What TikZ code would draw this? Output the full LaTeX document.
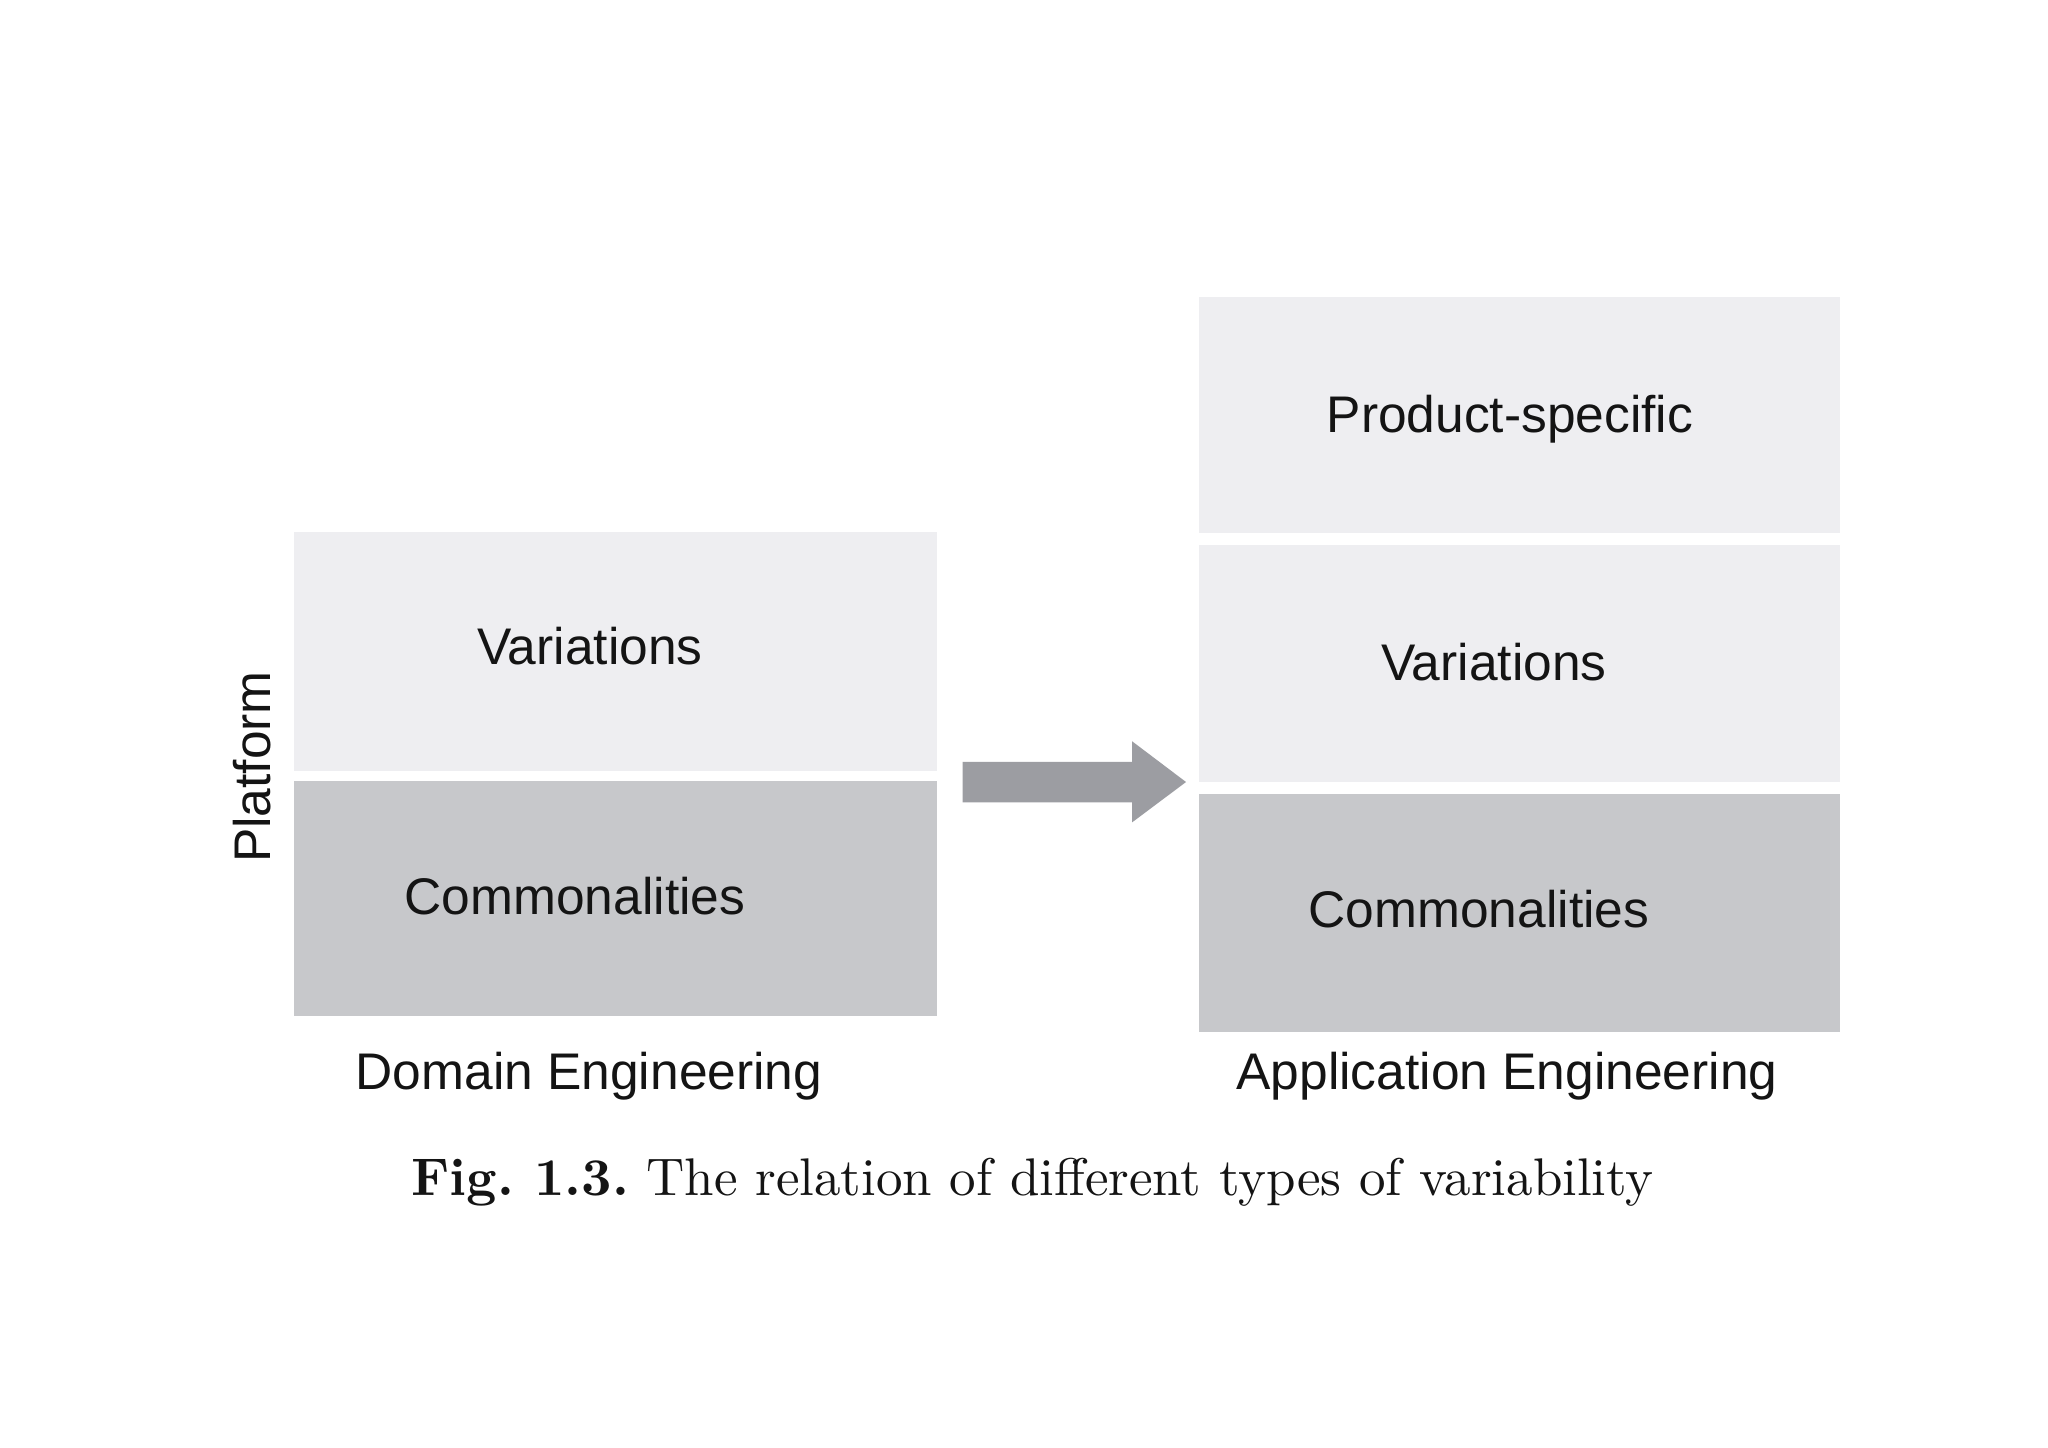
\documentclass[tikz,border=0pt]{standalone}
\usepackage{fontspec}
\usepackage{graphicx}
\newfontfamily\lblfont{Liberation Sans}
\definecolor{lightbox}{RGB}{238,238,241}
\definecolor{darkbox}{RGB}{199,200,203}
\definecolor{arrowgray}{RGB}{156,157,162}
\definecolor{txt}{RGB}{20,20,20}
\begin{document}
\begin{tikzpicture}[x=0.5pt,y=-0.5pt,
  blk/.style={inner sep=0pt, outer sep=0pt, draw=none},
  lightblk/.style={blk, fill=lightbox},
  darkblk/.style={blk, fill=darkbox},
  lbl/.style={inner sep=0pt, outer sep=0pt, anchor=base, text=txt,
    font=\lblfont\fontsize{25.75pt}{30pt}\selectfont},
  figcaption/.style={inner sep=0pt, outer sep=0pt, anchor=base, text=txt}]
\useasboundingbox[fill=white] (0,0) rectangle (2048,1447);

% left column (Domain Engineering)
\node[lightblk, minimum width=321.25pt, minimum height=119.5pt] (lvar) at (615.25,651.1) {};
\node[darkblk, minimum width=321.25pt, minimum height=117.5pt] (lcom) at (615.25,898.5) {};

% right column (Application Engineering)
\node[lightblk, minimum width=320.5pt, minimum height=118pt] (rps) at (1519.5,414.5) {};
\node[lightblk, minimum width=320.5pt, minimum height=118.65pt] (rvar) at (1519.5,663.35) {};
\node[darkblk, minimum width=320.5pt, minimum height=118.9pt] (rcom) at (1519.5,912.9) {};

% block arrow
\fill[arrowgray] (962.6,761.8) -- (1132,761.8) -- (1132,741.2) -- (1186,782)
  -- (1132,822.4) -- (1132,802.4) -- (962.6,802.4) -- cycle;

% labels
\node[lbl] (tlvar) at (590,664) {Variations};
\node[lbl] (tlcom) at (575,914) {Commonalities};
\node[lbl] (trps) at (1510,432) {Product-specific};
\node[lbl] (trvar) at (1494,680) {Variations};
\node[lbl] (trcom) at (1479,927.5) {Commonalities};
\node[lbl] (tdom) at (589,1089) {Domain Engineering};
\node[lbl] (tapp) at (1507,1089) {Application Engineering};
\node[lbl, rotate=90] (tplat) at (270.7,767) {Platform};

% caption
\node[figcaption] (caption) at (1032.5,1195)
  {\resizebox{621pt}{!}{\textbf{Fig.~1.3.}~The relation of different types of variability}};
\end{tikzpicture}
\end{document}
